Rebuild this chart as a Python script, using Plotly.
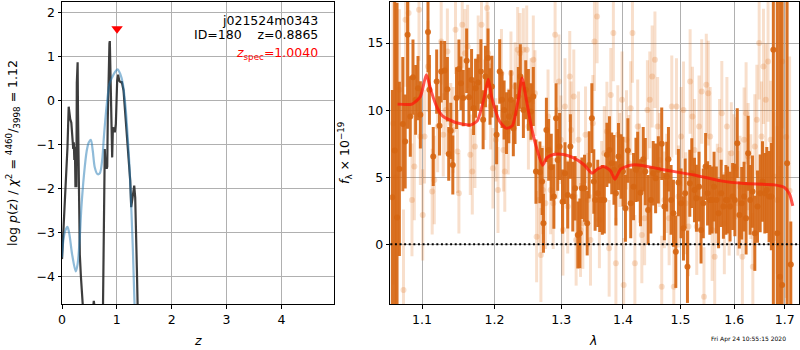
import plotly.graph_objects as go

# ---------------- redshift probability panel ----------------
pz_z = [0.0, 0.02, 0.04, 0.07, 0.10, 0.122, 0.135, 0.15, 0.17, 0.19, 0.205, 0.215, 0.225,
        0.235, 0.245, 0.255, 0.262, 0.27, 0.278, 0.285, 0.292, 0.30, 0.31, 0.325, 0.345,
        0.365, 0.40, 0.45, 0.50, 0.55, 0.57, 0.58, 0.59, 0.61, 0.65, 0.70, 0.74, 0.755,
        0.768, 0.78, 0.793, 0.805, 0.815, 0.825, 0.835, 0.845, 0.855, 0.865, 0.872, 0.88,
        0.888, 0.896, 0.905, 0.915, 0.927, 0.945, 0.963, 0.982, 0.995, 1.006, 1.024, 1.043,
        1.067, 1.091, 1.122, 1.152, 1.183, 1.213, 1.244, 1.262, 1.28, 1.299, 1.317, 1.335,
        1.345, 1.354, 1.365, 1.38, 1.40, 1.45]
pz_logp = [-3.6, -3.1, -2.55, -1.7, -1.06, -0.14, -0.3, -0.42, -0.5, -0.75, -1.1, -0.95, -1.35,
           -1.05, -1.97, -1.6, -1.97, 0.4, 0.85, 0.87, -0.3, -0.95, -2.42, -3.5, -4.0,
           -4.4, -5.2, -6.0, -5.6, -4.9, -4.65, -4.55, -4.65, -5.0, -6.0, -6.5, -5.5, -3.0,
           -1.14, -1.1, -1.52, -1.3, -1.55, -1.5, -0.4, 0.4, 1.06, 1.3, 1.35, 0.9,
           0.2, -0.68, -1.0, -1.29, -0.68, -0.61, -0.72, -0.53, 0.0, 0.45, 0.59, 0.45,
           0.42, 0.42, 0.23, -0.23, -0.76, -1.29, -1.82, -2.42, -2.27, -2.05, -1.93, -2.2,
           -2.6, -3.03, -3.8, -4.7, -5.5, -7.0]

phot_z = [0.0, 0.024, 0.061, 0.10, 0.134, 0.183, 0.25, 0.285, 0.32, 0.354, 0.402, 0.451,
          0.488, 0.526, 0.561, 0.598, 0.646, 0.69, 0.732, 0.768, 0.817, 0.866, 0.915,
          0.963, 1.012, 1.061, 1.11, 1.159, 1.195, 1.232, 1.268, 1.293, 1.317, 1.34, 1.37]
phot_logp = [-3.56, -3.18, -2.95, -2.87, -3.03, -3.48, -3.88, -3.71, -3.2, -2.42, -1.67, -1.14,
             -0.95, -0.89, -1.14, -1.52, -1.67, -1.65, -1.36, -0.76, -0.08, 0.38, 0.53,
             0.64, 0.71, 0.61, 0.38, -0.15, -0.76, -1.52, -2.58, -3.41, -4.39, -5.3, -6.5]

z_spec = 1.0040
z_best = 0.8865
spec_marker_logp = 1.63
obj_name = "j021524m0343"
obj_id = 180
chi2_num, chi2_den, chi2_red = 4460, 3998, 1.12

z_ticks = [0, 1, 2, 3, 4]
logp_ticks = [-4, -3, -2, -1, 0, 1, 2]

# ---------------- 1D spectrum panel ----------------
dark_wave = [1.0614, 1.0645, 1.0675,
             1.0705, 1.0749, 1.0780, 1.0811, 1.0846, 1.0881, 1.0916, 1.0947, 1.0978, 1.1079,
             1.1098, 1.1149, 1.1195, 1.1233, 1.1256, 1.1302, 1.1340, 1.1358, 1.1386, 1.1414,
             1.1465, 1.1498, 1.1526, 1.1558, 1.1605, 1.1637, 1.1674, 1.1702, 1.1730, 1.1767,
             1.1805, 1.1837, 1.1870, 1.1907, 1.1935, 1.1963, 1.2030, 1.2075, 1.2109, 1.2139,
             1.2174, 1.2209, 1.2239, 1.2274, 1.2299, 1.2348, 1.2378, 1.2423, 1.2458, 1.2498,
             1.2537, 1.2572, 1.2612, 1.2672, 1.2706, 1.2726, 1.2771, 1.2806, 1.2846, 1.2886,
             1.2920, 1.2945, 1.2975, 1.3021, 1.3059, 1.3102, 1.3144, 1.3182, 1.3219, 1.3262,
             1.3294, 1.3326, 1.3369, 1.3412, 1.3444, 1.3487, 1.3519, 1.3540, 1.3583, 1.3615,
             1.3658, 1.3690, 1.3733, 1.3775, 1.3813, 1.3850, 1.3882, 1.3925, 1.3968, 1.4000,
             1.4042, 1.4083, 1.4131, 1.4179, 1.4220, 1.4250, 1.4298, 1.4345, 1.4381, 1.4429,
             1.4476, 1.4518, 1.4560, 1.4607, 1.4667, 1.4714, 1.4756, 1.4786, 1.4833, 1.4875,
             1.4917, 1.4964, 1.5012, 1.5055, 1.5085, 1.5127, 1.5170, 1.5206, 1.5255, 1.5291,
             1.5339, 1.5376, 1.5418, 1.5461, 1.5497, 1.5539, 1.5582, 1.5618, 1.5660, 1.5703,
             1.5752, 1.5794, 1.5842, 1.5873, 1.5921, 1.5970, 1.6013, 1.6059, 1.6099, 1.6145,
             1.6191, 1.6230, 1.6270, 1.6309, 1.6355, 1.6401, 1.6454, 1.6507, 1.6553, 1.6599,
             1.6638, 1.6684, 1.6730, 1.6770, 1.6849, 1.6901, 1.6947, 1.7049, 1.7125]
dark_flux = [3.5, 7.0, 2.0,
             5.62, 8.96, 7.66, 15.62, 9.53, 12.46, 10.77, 11.64, 9.65, 15.82,
             11.52, 6.54, 12.13, 8.83, 12.88, 12.96, 11.56, 6.74, 8.46, 5.92,
             10.90, 13.06, 12.01, 10.90, 13.68, 10.97, 12.26, 10.15, 11.64, 12.06,
             12.88, 9.28, 12.51, 13.88, 11.02, 11.76, 8.16, 12.88, 10.77, 10.02,
             9.03, 9.53, 10.77, 8.66, 9.77, 11.02, 12.51, 10.02, 11.52, 10.77,
             9.90, 11.02, 5.42, 5.37, 4.68, 1.57, 8.53, 7.04, 5.75, 3.56,
             9.40, 6.29, 7.29, 3.18, 5.30, 3.68, 7.29, 3.56, 4.18, 0.70,
             0.82, 4.18, 4.18, 1.57, 5.92, 9.40, 4.68, 3.31, 3.80, 3.31,
             3.31, 3.31, 6.67, 7.04, 6.04, 5.55, 3.80, 6.54, 5.80, 5.42,
             2.69, 6.99, 3.06, 4.30, 5.55, 5.80, 3.85, 6.34, 5.42, 2.56,
             3.31, 5.30, 4.92, 5.55, 7.49, 2.81, 5.05, 6.34, 3.31, 2.31,
             -0.55, 4.60, 3.06, 1.19, 3.80, -1.67, 4.55, 5.30, 4.05, 3.43,
             4.30, 1.07, 3.06, 5.80, 3.80, 3.31, 3.31, 4.30, 3.31, 2.31,
             3.80, 2.81, 3.31, 3.31, 2.81, 3.56, 3.31, 7.54, 2.19, 3.06,
             3.56, 1.94, 6.79, 3.31, 3.93, 0.82, 2.81, 3.80, 4.68, 3.80,
             4.05, 3.56, 3.56, 14.50, 0.82, -2.41, -3.03, 6.04, -1.5]
dark_err = [8.0, 14.0, 16.0,
            6.5, 5.0, 3.5, 7.0, 3.0, 2.8, 2.6, 2.4, 2.5, 3.0,
            2.6, 2.2, 2.4, 2.2, 2.3, 2.2, 2.4, 2.0, 2.1, 2.2,
            2.3, 2.2, 2.0, 2.1, 2.4, 2.2, 2.3, 2.0, 2.2, 2.1,
            2.4, 2.2, 2.3, 2.2, 2.1, 2.3, 2.2, 2.4, 2.1, 2.2,
            2.3, 2.0, 2.2, 2.1, 2.3, 2.2, 2.4, 2.1, 2.2, 2.3,
            2.1, 2.2, 2.4, 2.3, 2.5, 2.2, 2.4, 2.3, 2.5, 2.4,
            2.6, 2.3, 2.5, 2.4, 2.3, 2.5, 2.4, 2.6, 2.4, 2.5,
            2.6, 2.3, 2.5, 2.4, 2.5, 2.6, 2.4, 2.3, 2.5, 2.4,
            2.6, 2.5, 2.4, 2.5, 2.3, 2.6, 2.4, 2.5, 2.4, 2.6,
            2.5, 2.4, 2.6, 2.5, 2.4, 2.6, 2.5, 2.4, 2.5, 2.6,
            2.5, 2.4, 2.6, 2.5, 2.7, 2.5, 2.6, 2.4, 2.6, 2.5,
            2.7, 2.5, 2.6, 2.4, 2.6, 2.7, 2.5, 2.6, 2.4, 2.5,
            2.6, 2.5, 2.6, 2.5, 2.4, 2.6, 2.5, 2.6, 2.5, 2.6,
            2.5, 2.4, 2.6, 2.5, 2.6, 2.5, 2.7, 2.6, 2.5, 2.7,
            2.6, 2.7, 2.8, 2.6, 2.7, 2.8, 2.7, 2.9, 3.0, 3.0,
            3.2, 3.4, 4.0, 20.0, 20.0, 22.0, 22.0, 22.0, 3.2]

light_wave = [1.0625, 1.0660,
              1.0705, 1.0758, 1.0784, 1.0824, 1.0868, 1.0899, 1.0960, 1.0978, 1.1009, 1.1033,
              1.1079, 1.1135, 1.1163, 1.1209, 1.1256, 1.1284, 1.1321, 1.1340, 1.1386, 1.1419,
              1.1451, 1.1479, 1.1498, 1.1544, 1.1581, 1.1619, 1.1656, 1.1684, 1.1721, 1.1767,
              1.1814, 1.1860, 1.1893, 1.1907, 1.1944, 1.1977, 1.2020, 1.2050, 1.2100, 1.2129,
              1.2149, 1.2199, 1.2239, 1.2299, 1.2338, 1.2373, 1.2423, 1.2473, 1.2498, 1.2537,
              1.2572, 1.2597, 1.2622, 1.2657, 1.2687, 1.2716, 1.2756, 1.2796, 1.2836, 1.2876,
              1.2905, 1.2930, 1.2965, 1.2995, 1.3027, 1.3059, 1.3102, 1.3134, 1.3155, 1.3198,
              1.3235, 1.3273, 1.3305, 1.3342, 1.3385, 1.3422, 1.3465, 1.3503, 1.3529, 1.3572,
              1.3610, 1.3647, 1.3690, 1.3733, 1.3770, 1.3797, 1.3840, 1.3882, 1.3914, 1.3947,
              1.3985, 1.4012, 1.4060, 1.4101, 1.4131, 1.4161, 1.4202, 1.4250, 1.4280, 1.4321,
              1.4369, 1.4417, 1.4458, 1.4500, 1.4548, 1.4595, 1.4631, 1.4667, 1.4714, 1.4756,
              1.4798, 1.4845, 1.4881, 1.4929, 1.4964, 1.5012, 1.5055, 1.5097, 1.5145, 1.5176,
              1.5218, 1.5255, 1.5297, 1.5339, 1.5388, 1.5430, 1.5473, 1.5509, 1.5545, 1.5582,
              1.5630, 1.5679, 1.5721, 1.5764, 1.5812, 1.5861, 1.5903, 1.5945, 1.5994, 1.6033,
              1.6072, 1.6112, 1.6158, 1.6191, 1.6230, 1.6270, 1.6322, 1.6362, 1.6401, 1.6441,
              1.6487, 1.6533, 1.6572, 1.6618, 1.6664, 1.6717, 1.6783, 1.6849, 1.6901, 1.6947,
              1.7030, 1.7100]
light_flux = [9.0, 5.0,
              11.52, -3.41, 16.74, 17.24, 3.31, 5.80, 17.49, 8.03, 2.19, 8.03,
              13.26, 3.93, 4.80, 8.78, 15.12, 8.16, 10.02, 14.37, 9.03, 8.53,
              15.99, 6.92, 3.80, 16.37, 14.25, 14.75, 6.67, 5.42, 7.29, 13.76,
              16.37, 10.77, 17.61, 14.25, 10.27, 5.67, 7.79, 4.05, 12.76, 7.04,
              5.42, 8.41, 12.76, 11.77, 14.50, 14.25, 14.50, 14.50, 8.78, 10.77,
              13.76, 11.27, 0.57, 3.31, -0.80, 4.05, 3.06, 9.53, 4.05, 3.06,
              15.62, 6.79, 12.14, 7.79, 1.07, 10.27, 2.81, 12.51, 8.53, 11.02,
              0.32, 7.79, 1.07, 1.57, 8.16, 3.31, 0.32, 9.03, 15.12, 16.99,
              1.82, 4.30, 6.79, 8.41, -0.30, 11.14, 15.75, -1.42, 8.16, 6.29,
              10.77, -3.03, 7.79, 6.04, 10.15, 15.75, -1.42, 8.78, 5.30, 0.70,
              1.94, 10.02, 10.77, 12.51, 13.76, 8.78, 6.29, -3.16, 3.31, 4.55,
              1.94, 10.27, -3.16, 10.27, 3.56, 8.03, 10.02, 3.06, 1.32, 12.14,
              9.53, 7.04, 1.32, 8.78, 11.39, -3.91, 11.89, 11.27, 8.03, 1.07,
              -0.92, 3.80, 7.04, 9.77, 1.57, 8.78, 3.06, 6.79, 5.80, 5.67,
              3.06, 4.30, -0.92, 7.79, 9.77, 6.54, 4.30, -1.67, 7.29, 9.28,
              15.00, 8.03, 13.26, 10.77, 13.63, 7.79, 5.05, 3.31, -0.17, 13.63,
              8.0, 4.0]
light_err = [12.0, 10.0,
             6.0, 6.0, 5.0, 5.0, 4.2, 4.0, 3.8, 3.6, 3.4, 3.5,
             3.4, 3.2, 3.3, 3.4, 3.2, 3.1, 3.3, 3.2, 3.0, 3.2,
             3.3, 3.1, 3.0, 3.2, 3.3, 3.1, 3.0, 3.2, 3.1, 3.3,
             3.2, 3.0, 3.3, 3.1, 3.2, 3.0, 3.1, 3.2, 3.3, 3.1,
             3.0, 3.2, 3.1, 3.3, 3.2, 3.0, 3.1, 3.3, 3.2, 3.1,
             3.3, 3.2, 3.4, 3.2, 3.5, 3.3, 3.4, 3.5, 3.3, 3.4,
             3.6, 3.4, 3.5, 3.3, 3.4, 3.6, 3.5, 3.4, 3.6, 3.5,
             3.4, 3.6, 3.5, 3.4, 3.6, 3.5, 3.4, 3.6, 3.7, 3.5,
             3.6, 3.4, 3.5, 3.7, 3.6, 3.5, 3.6, 3.4, 3.7, 3.5,
             3.6, 3.5, 3.7, 3.6, 3.5, 3.7, 3.6, 3.5, 3.7, 3.6,
             3.5, 3.7, 3.6, 3.8, 3.6, 3.7, 3.5, 3.8, 3.6, 3.7,
             3.5, 3.8, 3.7, 3.6, 3.8, 3.7, 3.6, 3.8, 3.7, 3.9,
             3.7, 3.8, 3.6, 3.8, 3.9, 3.7, 3.8, 3.9, 3.7, 3.8,
             3.9, 3.7, 3.8, 3.9, 3.8, 3.7, 3.9, 3.8, 3.9, 3.8,
             3.9, 3.8, 4.0, 3.9, 3.8, 4.0, 3.9, 4.0, 3.9, 4.1,
             4.2, 4.1, 4.3, 4.2, 4.5, 4.4, 4.8, 5.5, 6.0, 5.0,
             12.0, 10.0]

model_wave = [1.0682, 1.0868, 1.0977, 1.1057, 1.1120, 1.1200, 1.1273, 1.1449, 1.1661,
              1.1754, 1.1852, 1.1910, 1.1960, 1.2070, 1.2168, 1.2258, 1.2344, 1.2404,
              1.2470, 1.2545, 1.2621, 1.2713, 1.2776, 1.2880, 1.3037, 1.3195, 1.3355,
              1.3490, 1.3572, 1.3682, 1.3793, 1.3865, 1.3960, 1.4128, 1.4299, 1.4647,
              1.5246, 1.5745, 1.6193, 1.6791, 1.6995, 1.7100, 1.7166]
model_flux = [10.45, 10.45, 11.0, 12.64, 11.44, 10.2, 9.58, 9.08, 8.9,
              9.2, 10.95, 12.3, 10.95, 9.2, 8.66, 8.83, 10.7, 12.4,
              10.7, 8.7, 7.2, 5.9, 6.44, 6.7, 6.7, 6.44, 5.95,
              5.3, 5.6, 5.8, 5.47, 4.85, 5.6, 5.9, 5.9, 5.6,
              5.17, 4.73, 4.53, 4.43, 4.23, 3.73, 2.86]

wave_ticks = [1.1, 1.2, 1.3, 1.4, 1.5, 1.6, 1.7]
wave_tick_text = ["1.1", "1.2", "1.3", "1.4", "1.5", "1.6", "1.7"]
flux_ticks = [0, 5, 10, 15]
timestamp = "Fri Apr 24 10:55:15 2020"

FONT = "DejaVu Sans"
ORANGE = "rgba(214,102,18,0.92)"
ORANGE_LIGHT = "rgba(222,110,25,0.22)"

fig = go.Figure()

# p(z) curves
fig.add_trace(go.Scatter(x=pz_z, y=pz_logp, mode="lines", xaxis="x", yaxis="y",
                         line=dict(color="rgba(45,45,45,0.92)", width=2.2)))
fig.add_trace(go.Scatter(x=phot_z, y=phot_logp, mode="lines", xaxis="x", yaxis="y",
                         line=dict(color="rgba(31,119,180,0.5)", width=2.2, shape="spline",
                                   smoothing=0.8)))
fig.add_trace(go.Scatter(x=[z_spec], y=[spec_marker_logp], mode="markers", xaxis="x", yaxis="y",
                         marker=dict(symbol="triangle-down", size=10, color="red",
                                     line=dict(width=0))))

# spectrum: individual (light) and combined (dark) points
fig.add_trace(go.Scatter(x=light_wave, y=light_flux, mode="markers", xaxis="x2", yaxis="y2",
                         marker=dict(size=6, color=ORANGE_LIGHT, line=dict(width=0)),
                         error_y=dict(type="data", array=light_err, visible=True,
                                      color=ORANGE_LIGHT, thickness=3, width=0)))
fig.add_trace(go.Scatter(x=dark_wave, y=dark_flux, mode="markers", xaxis="x2", yaxis="y2",
                         marker=dict(size=6, color=ORANGE, line=dict(width=0)),
                         error_y=dict(type="data", array=dark_err, visible=True,
                                      color=ORANGE, thickness=3, width=0)))
fig.add_trace(go.Scatter(x=model_wave, y=model_flux, mode="lines", xaxis="x2", yaxis="y2",
                         line=dict(color="rgba(255,20,10,0.72)", width=3, shape="spline",
                                   smoothing=0.6)))

# zero level
fig.add_shape(type="line", xref="x2 domain", x0=0, x1=1, yref="y2", y0=0, y1=0,
              line=dict(color="black", width=2, dash="2px,2.6px"), layer="above")

axis_common = dict(showline=True, mirror=True, linecolor="black", linewidth=1,
                   showgrid=True, gridcolor="#b0b0b0", gridwidth=1, zeroline=False,
                   ticks="outside", ticklen=3.5, tickwidth=1, tickcolor="black",
                   tickfont=dict(family=FONT, size=12.5, color="black"),
                   layer="above traces", automargin=False)

ydom = [0.1314, 0.9957]
fig.update_layout(
    width=800, height=350,
    margin=dict(l=0, r=0, t=0, b=0, pad=0, autoexpand=False),
    paper_bgcolor="white", plot_bgcolor="white",
    showlegend=False, hovermode=False,
    font=dict(family=FONT, size=12.5, color="black"),
    xaxis=dict(domain=[0.0775, 0.4175], range=[0, 4.96], tickmode="array",
               tickvals=z_ticks, anchor="y", **axis_common),
    yaxis=dict(domain=ydom, range=[-4.62, 2.25], tickmode="array",
               tickvals=logp_ticks, anchor="x", **axis_common),
    xaxis2=dict(domain=[0.4879, 0.9991], type="log", range=[0.02486, 0.23805],
                tickmode="array", tickvals=wave_ticks, ticktext=wave_tick_text,
                anchor="y2", **axis_common),
    yaxis2=dict(domain=ydom, range=[-4.45, 18.1], tickmode="array",
                tickvals=flux_ticks, anchor="x2", **axis_common),
)

annotations = [
    dict(text=obj_name, x=0.4, y=1 - 20 / 350, xanchor="right", yanchor="middle",
         font=dict(size=12.5)),
    dict(text=f"ID={obj_id}\u00a0\u00a0\u00a0\u00a0z={z_best:.4f}", x=0.4, y=1 - 34.5 / 350,
         xanchor="right", yanchor="middle", font=dict(size=12.5)),
    dict(text=f"<i>z</i><sub>spec</sub>={z_spec:.4f}", x=0.4, y=1 - 53 / 350,
         xanchor="right", yanchor="middle", font=dict(size=12.5, color="red")),
    dict(text=(f"log <i>p</i>(<i>z</i>) / <i>χ</i><sup>2</sup> = "
               f"<sup>{chi2_num}</sup>/<sub>{chi2_den}</sub> = {chi2_red:.2f}"),
         x=13 / 800, y=1 - 153 / 350, textangle=-90, xanchor="center", yanchor="middle",
         font=dict(size=12.5)),
    dict(text="<i>f</i><sub>λ</sub> × 10<sup>−19</sup>", x=345 / 800, y=1 - 153 / 350,
         textangle=-90, xanchor="center", yanchor="middle", font=dict(size=12.5)),
    dict(text="<i>z</i>", x=198 / 800, y=1 - 340 / 350, xanchor="center", yanchor="middle",
         font=dict(size=12.5)),
    dict(text="<i>λ</i>", x=593 / 800, y=1 - 340 / 350, xanchor="center", yanchor="middle",
         font=dict(size=12.5)),
    dict(text=timestamp, x=788 / 800, y=1 - 339 / 350, xanchor="right", yanchor="middle",
         font=dict(size=6)),
]
for a in annotations:
    a.update(xref="paper", yref="paper", showarrow=False)
fig.update_layout(annotations=annotations)

fig.write_html("out.html")
